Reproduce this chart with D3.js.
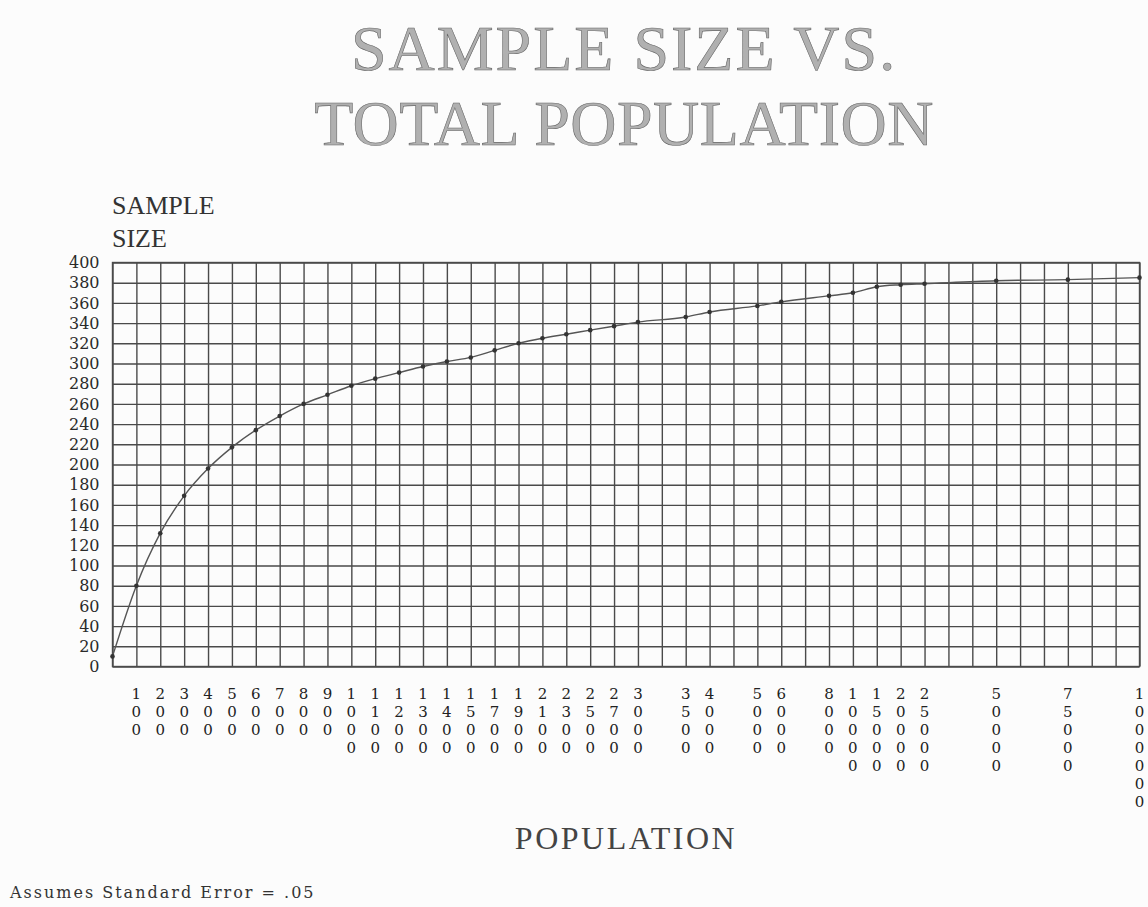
<!DOCTYPE html>
<html>
<head>
<meta charset="utf-8">
<script src="https://cdn.jsdelivr.net/npm/d3@7"></script>
<style>
  body { margin: 0; background: #fcfcfc; }
  svg { display: block; }
</style>
</head>
<body>
<div id="chart"></div>
<script>
// population for each grid column (null = empty column)
var slots = [10, 100, 200, 300, 400, 500, 600, 700, 800, 900,
  1000, 1100, 1200, 1300, 1400, 1500, 1700, 1900, 2100, 2300, 2500, 2700, 3000,
  null, 3500, 4000, null, 5000, 6000, null, 8000, 10000, 15000, 20000, 25000,
  null, null, 50000, null, null, 75000, null, null, 1000000];
var sampleSizes = [10, 80, 132, 169, 196, 217, 234, 248, 260, 269,
  278, 285, 291, 297, 302, 306, 313, 320, 325, 329, 333, 337, 341,
  346, 351, 357, 361, 367, 370, 376, 378, 379,
  382, 383, 385];
var hiddenLabels = [10];
var yTicks = [0, 20, 40, 60, 80, 100, 120, 140, 160, 180, 200, 220, 240, 260, 280, 300, 320, 340, 360, 380, 400];

var margin = { top: 262.5, left: 112.5 };
var largura = 1027, altura = 404;

var svg = d3.select("#chart").append("svg")
  .attr("width", 1148)
  .attr("height", 907);

var xScale = d3.scaleLinear().domain([0, slots.length - 1]).range([0, largura]);
var yScale = d3.scaleLinear().domain([0, 400]).range([altura, 0]);

var pontos = slots
  .map(function(p, i) { return { pop: p, col: i }; })
  .filter(function(d) { return d.pop !== null; });
pontos.forEach(function(d, i) { d.n = sampleSizes[i]; });

var g = svg.append("g").attr("transform", "translate(" + margin.left + "," + margin.top + ")");

// titles
[["SAMPLE SIZE VS.", 70, "2px"], ["TOTAL POPULATION", 145, "0.5px"]].forEach(function(t) {
  svg.append("text").attr("x", 624).attr("y", t[1])
    .attr("text-anchor", "middle")
    .style("font-family", "Liberation Serif").style("font-size", "64px")
    .style("letter-spacing", t[2])
    .style("fill", "#b0b0b0").style("stroke", "#666").style("stroke-width", 0.6)
    .text(t[0]);
});

svg.append("text").attr("x", 112).attr("y", 214)
  .style("font-family", "Liberation Serif").style("font-size", "26px")
  .style("fill", "#333").text("SAMPLE");
svg.append("text").attr("x", 112).attr("y", 247)
  .style("font-family", "Liberation Serif").style("font-size", "26px")
  .style("fill", "#333").text("SIZE");

// grid
var xGrid = d3.axisBottom(xScale).tickValues(d3.range(slots.length))
  .tickSize(-altura).tickFormat("");
var yGrid = d3.axisLeft(yScale).tickValues(yTicks).tickSize(-largura)
  .tickPadding(13).tickFormat(d3.format("d"));

var xAxisG = g.append("g").attr("transform", "translate(0," + altura + ")").call(xGrid);
var yAxisG = g.append("g").call(yGrid);

[xAxisG, yAxisG].forEach(function(a) {
  a.select(".domain").remove();
  a.selectAll(".tick line").attr("stroke", "#4a4a4a").attr("stroke-width", 1.4);
});
yAxisG.selectAll(".tick text")
  .style("font-family", "DejaVu Serif").style("font-size", "16px").style("fill", "#2a2a2a");

g.append("rect").attr("width", largura).attr("height", altura)
  .attr("fill", "none").attr("stroke", "#4a4a4a").attr("stroke-width", 1.4);

// x labels, one digit per row
var labels = g.append("g").selectAll("text")
  .data(pontos.filter(function(d) { return hiddenLabels.indexOf(d.pop) < 0; }))
  .enter().append("text")
  .attr("text-anchor", "middle")
  .style("font-family", "DejaVu Serif").style("font-size", "15px").style("fill", "#222");
labels.each(function(d) {
  var t = d3.select(this);
  String(d.pop).split("").forEach(function(c, i) {
    t.append("tspan")
      .attr("x", xScale(d.col))
      .attr("y", altura + 32 + i * 18)
      .text(c);
  });
});

// curve
var linha = d3.line()
  .x(function(d) { return xScale(d.col); })
  .y(function(d) { return yScale(d.n); })
  .curve(d3.curveMonotoneX);

g.append("path").datum(pontos)
  .attr("d", linha)
  .attr("fill", "none").attr("stroke", "#555").attr("stroke-width", 1.4);

g.selectAll(".pt").data(pontos).enter().append("circle")
  .attr("class", "pt")
  .attr("cx", function(d) { return xScale(d.col); })
  .attr("cy", function(d) { return yScale(d.n); })
  .attr("r", 2.3).attr("fill", "#333");

svg.append("text").attr("x", 626).attr("y", 849)
  .attr("text-anchor", "middle")
  .style("font-family", "Liberation Serif").style("font-size", "32px")
  .style("letter-spacing", "2.5px").style("fill", "#444").text("POPULATION");

svg.append("text").attr("x", 10).attr("y", 898)
  .style("font-family", "DejaVu Serif").style("font-size", "16px")
  .style("letter-spacing", "2px").style("fill", "#333")
  .text("Assumes Standard Error = .05");
</script>
</body>
</html>
